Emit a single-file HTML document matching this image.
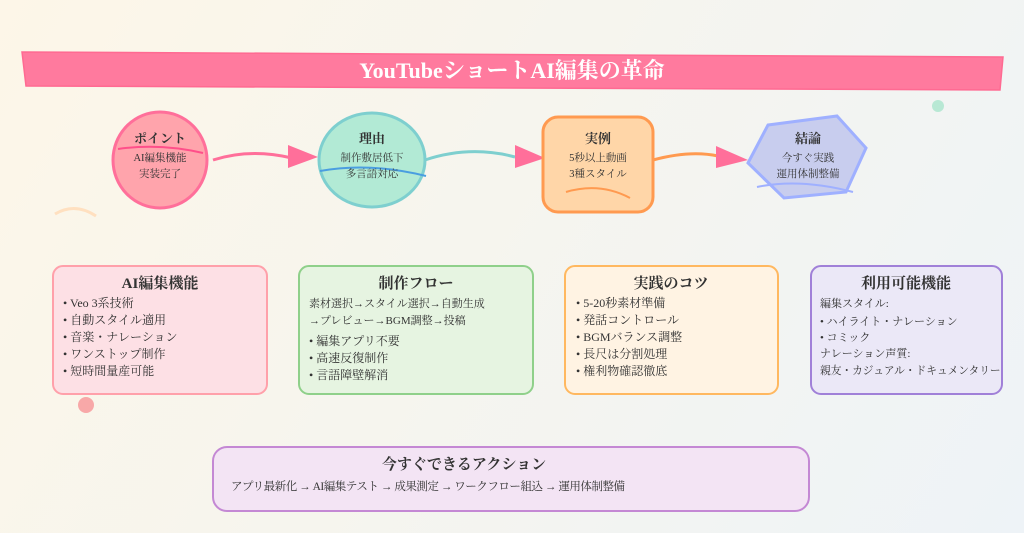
<!DOCTYPE html>
<html><head><meta charset="utf-8"><style>
html,body{margin:0;padding:0;width:1024px;height:533px;overflow:hidden}
body{background:linear-gradient(120deg,#fdf6e8 0%,#f6f5ee 45%,#eef3f7 100%);font-family:"Liberation Serif","Noto Serif CJK JP",serif;color:#333}
svg{position:absolute;left:0;top:0}
text{font-family:"Liberation Serif","Noto Serif CJK JP",serif;fill:#333}
</style></head><body>
<svg width="1024" height="533" viewBox="0 0 1024 533">
<circle cx="938" cy="106" r="6" fill="#b8e8d4"/>
<circle cx="86" cy="405" r="8" fill="#f8a8a8"/>
<path d="M55 214 Q75 202 96 216" stroke="#ffe0c0" stroke-width="3" fill="none"/>
<polygon points="22,52 1003,57 1000,90 26,86" fill="#ff7a9e" stroke="#ff6a92" stroke-width="1.5"/>
<text x="512" y="78" text-anchor="middle" font-size="22" font-weight="bold" style="fill:#fff">YouTubeショートAI編集の革命</text>

<path d="M213 160 Q250 148 292 158" stroke="#ff6f9a" stroke-width="3" fill="none"/>
<polygon points="288,145 318,157 288,168" fill="#ff6f9a"/>
<path d="M425 160 Q470 145 515 157" stroke="#7ecfcf" stroke-width="3" fill="none"/>
<polygon points="515,145 545,158 515,168" fill="#ff6f9a"/>
<path d="M653 160 Q690 150 718 156" stroke="#ff9a50" stroke-width="3" fill="none"/>
<polygon points="716,146 748,160 716,168" fill="#ff6f9a"/>

<ellipse cx="160" cy="160" rx="47" ry="48" fill="#ffa4ac" stroke="#ff6f9a" stroke-width="3"/>
<path d="M118 149 Q160 143 203 153" stroke="#ff4f8a" stroke-width="2" fill="none"/>
<text x="160" y="143" text-anchor="middle" font-size="13" font-weight="bold">ポイント</text>
<text x="160" y="161" text-anchor="middle" font-size="10.5">AI編集機能</text>
<text x="160" y="177" text-anchor="middle" font-size="10.5">実装完了</text>

<ellipse cx="372" cy="160" rx="53" ry="47" fill="#b2ead5" stroke="#7ecfcf" stroke-width="3"/>
<path d="M320 171 Q370 162 426 176" stroke="#4a9ee0" stroke-width="2" fill="none"/>
<text x="372" y="143" text-anchor="middle" font-size="13" font-weight="bold">理由</text>
<text x="372" y="161" text-anchor="middle" font-size="10.5">制作敷居低下</text>
<text x="372" y="177" text-anchor="middle" font-size="10.5">多言語対応</text>

<rect x="543" y="117" width="110" height="95" rx="15" fill="#ffd6a8" stroke="#ff9a50" stroke-width="3"/>
<path d="M566 192 Q600 182 630 198" stroke="#ff9a50" stroke-width="2" fill="none"/>
<text x="598" y="143" text-anchor="middle" font-size="13" font-weight="bold">実例</text>
<text x="598" y="161" text-anchor="middle" font-size="10.5">5秒以上動画</text>
<text x="598" y="177" text-anchor="middle" font-size="10.5">3種スタイル</text>

<polygon points="768,125 837,116 866,148 846,192 784,198 748,163" fill="#c8cdee" stroke="#9fb0ff" stroke-width="3"/>
<path d="M757 187 Q800 178 853 192" stroke="#9fb0ff" stroke-width="2" fill="none"/>
<text x="808" y="143" text-anchor="middle" font-size="13" font-weight="bold">結論</text>
<text x="808" y="161" text-anchor="middle" font-size="10.5">今すぐ実践</text>
<text x="808" y="177" text-anchor="middle" font-size="10.5">運用体制整備</text>

<rect x="53" y="266" width="214" height="128" rx="10" fill="#fde0e5" stroke="#ffa0aa" stroke-width="2"/>
<text x="160" y="288" text-anchor="middle" font-size="15" font-weight="bold">AI編集機能</text>
<g font-size="12"><text x="63" y="307">• Veo 3系技術</text><text x="63" y="324">• 自動スタイル適用</text><text x="63" y="341">• 音楽・ナレーション</text><text x="63" y="358">• ワンストップ制作</text><text x="63" y="375">• 短時間量産可能</text></g>

<rect x="299" y="266" width="234" height="128" rx="10" fill="#e6f4e1" stroke="#8fd08a" stroke-width="2"/>
<text x="416" y="288" text-anchor="middle" font-size="15" font-weight="bold">制作フロー</text>
<g font-size="11"><text x="309" y="307">素材選択→スタイル選択→自動生成</text><text x="309" y="324">→プレビュー→BGM調整→投稿</text></g>
<g font-size="12"><text x="309" y="345">• 編集アプリ不要</text><text x="309" y="362">• 高速反復制作</text><text x="309" y="379">• 言語障壁解消</text></g>

<rect x="565" y="266" width="213" height="128" rx="10" fill="#fff3e3" stroke="#ffb860" stroke-width="2"/>
<text x="671" y="288" text-anchor="middle" font-size="15" font-weight="bold">実践のコツ</text>
<g font-size="12"><text x="576" y="307">• 5-20秒素材準備</text><text x="576" y="324">• 発話コントロール</text><text x="576" y="341">• BGMバランス調整</text><text x="576" y="358">• 長尺は分割処理</text><text x="576" y="375">• 権利物確認徹底</text></g>

<rect x="811" y="266" width="191" height="128" rx="10" fill="#ebe8f7" stroke="#a080d8" stroke-width="2"/>
<text x="906" y="288" text-anchor="middle" font-size="15" font-weight="bold">利用可能機能</text>
<g font-size="11"><text x="820" y="307">編集スタイル:</text><text x="820" y="325">• ハイライト・ナレーション</text><text x="820" y="341">• コミック</text><text x="820" y="357">ナレーション声質:</text><text x="820" y="374" font-size="10.7">親友・カジュアル・ドキュメンタリー</text></g>

<rect x="213" y="447" width="596" height="64" rx="14" fill="#f3e4f4" stroke="#c488d4" stroke-width="2"/>
<text x="464" y="469" text-anchor="middle" font-size="15" font-weight="bold">今すぐできるアクション</text>
<text x="231" y="490" font-size="11.5" textLength="394">アプリ最新化 → AI編集テスト → 成果測定 → ワークフロー組込 → 運用体制整備</text>
</svg>
</body></html>
